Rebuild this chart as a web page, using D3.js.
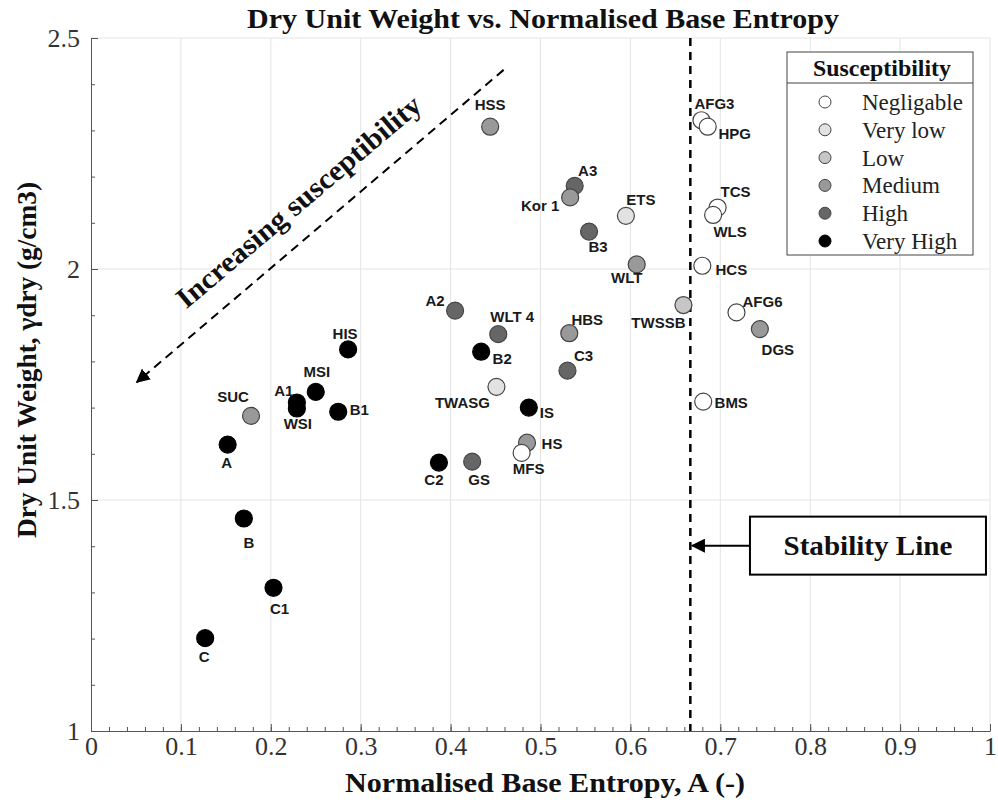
<!DOCTYPE html>
<html>
<head>
<meta charset="utf-8">
<script src="https://cdn.jsdelivr.net/npm/d3@7"></script>
<style>
  body { margin: 0; background: #fff; }
  .eje text { font-family: 'Liberation Serif', serif; font-size: 26px; fill: #333; }
  .eje path, .eje line { stroke: #555; }
  .etiqueta { font-family: 'Liberation Sans', Arial, sans-serif; font-weight: bold; font-size: 15px; fill: #1a1a1a; }
  .titulo { font-family: 'Liberation Serif', serif; font-weight: bold; fill: #111; }
</style>
</head>
<body>
<div id="graf"></div>
<script>
// I. Datos
nombres = ['HSS', 'A3', 'Kor 1', 'ETS', 'B3', 'WLT', 'HIS', 'MSI', 'A1', 'WSI', 'B1', 'SUC', 'A',
           'B', 'C1', 'C', 'A2', 'WLT 4', 'HBS', 'B2', 'C3', 'TWASG', 'IS', 'HS', 'MFS', 'C2', 'GS',
           'TWSSB', 'AFG3', 'HPG', 'TCS', 'WLS', 'HCS', 'AFG6', 'DGS', 'BMS']
entropia = [0.444, 0.538, 0.533, 0.595, 0.554, 0.607, 0.286, 0.250, 0.229, 0.229, 0.275, 0.178, 0.152,
            0.170, 0.203, 0.127, 0.405, 0.453, 0.532, 0.434, 0.530, 0.451, 0.487, 0.485, 0.479, 0.387, 0.424,
            0.659, 0.679, 0.686, 0.697, 0.692, 0.680, 0.718, 0.744, 0.681]
pesoSeco = [2.308, 2.180, 2.155, 2.115, 2.081, 2.010, 1.826, 1.734, 1.711, 1.698, 1.691, 1.682, 1.620,
            1.460, 1.310, 1.201, 1.910, 1.859, 1.861, 1.821, 1.780, 1.745, 1.700, 1.624, 1.602, 1.581, 1.583,
            1.922, 2.322, 2.308, 2.133, 2.117, 2.007, 1.906, 1.870, 1.713]
clase = ['Medium', 'High', 'Medium', 'Very low', 'High', 'Medium', 'Very High', 'Very High', 'Very High',
         'Very High', 'Very High', 'Medium', 'Very High', 'Very High', 'Very High', 'Very High', 'High',
         'High', 'Medium', 'Very High', 'High', 'Very low', 'Very High', 'Medium', 'Negligable', 'Very High',
         'High', 'Low', 'Negligable', 'Negligable', 'Negligable', 'Negligable', 'Negligable', 'Negligable',
         'Medium', 'Negligable']

clases = ['Negligable', 'Very low', 'Low', 'Medium', 'High', 'Very High']
xTicks = [0, 0.1, 0.2, 0.3, 0.4, 0.5, 0.6, 0.7, 0.8, 0.9, 1]
yTicks = [1, 1.5, 2, 2.5]
lineaEstabilidad = 2 / 3

// desplazamiento de cada etiqueta respecto a su punto (px)
offsets = {
  'HSS': [0, -22], 'A3': [13, -15], 'Kor 1': [-30, 8], 'ETS': [15, -16], 'B3': [9, 15], 'WLT': [-10, 13],
  'HIS': [-3, -16], 'MSI': [1, -20], 'A1': [-13, -12], 'WSI': [1, 15], 'B1': [21, -2], 'SUC': [-18, -19],
  'A': [-1, 18], 'B': [5, 24], 'C1': [6, 21], 'C': [-1, 18], 'A2': [-20, -10], 'WLT 4': [14, -18],
  'HBS': [18, -14], 'B2': [21, 7], 'C3': [16, -15], 'TWASG': [-34, 16], 'IS': [18, 5], 'HS': [25, 1],
  'MFS': [7, 16], 'C2': [-5, 17], 'GS': [7, 18], 'TWSSB': [-25, 17], 'AFG3': [13, -17], 'HPG': [27, 7],
  'TCS': [18, -16], 'WLS': [17, 17], 'HCS': [29, 4], 'AFG6': [26, -11], 'DGS': [18, 20], 'BMS': [28, 1]
}

datos = nombres.map((n, i) => ({ nombre: n, x: entropia[i], y: pesoSeco[i], clase: clase[i] }))

// II. Configuración
ancho_total = 998
alto_total = 810
margins = { top: 38, left: 91, right: 8, bottom: 79 }
ancho = ancho_total - margins.left - margins.right
alto = alto_total - margins.top - margins.bottom

svg = d3.select('#graf').append('svg')
        .attr('width', ancho_total)
        .attr('height', alto_total)

g = svg.append('g')
       .attr('transform', `translate(${ margins.left }, ${ margins.top })`)

x = d3.scaleLinear().domain([0, 1]).range([0, ancho])
y = d3.scaleLinear().domain([1, 2.5]).range([alto, 0])

color = d3.scaleOrdinal()
          .domain(clases)
          .range(['#ffffff', '#e2e2e2', '#c6c6c6', '#999999', '#666666', '#000000'])

// III. Rejilla
g.append('g').selectAll('line').data(xTicks.slice(1))
  .enter().append('line')
    .attr('x1', d => x(d)).attr('x2', d => x(d))
    .attr('y1', 0).attr('y2', alto)
    .attr('stroke', '#e4e4e4')
g.append('g').selectAll('line').data(yTicks.slice(1))
  .enter().append('line')
    .attr('x1', 0).attr('x2', ancho)
    .attr('y1', d => y(d)).attr('y2', d => y(d))
    .attr('stroke', '#e4e4e4')

// IV. Ejes (ticks hacia dentro)
xAxisGroup = g.append('g').attr('class', 'eje').attr('transform', `translate(0, ${ alto })`)
xAxisGroup.call(d3.axisBottom(x).tickValues(xTicks).tickSizeInner(-7).tickSizeOuter(0)
                  .tickPadding(6).tickFormat(d3.format('')))
g.append('g').attr('class', 'eje').attr('transform', `translate(0, ${ alto })`)
  .call(d3.axisBottom(x).tickValues(d3.range(0, 1.001, 0.02)).tickSize(-4).tickFormat(''))
  .select('.domain').remove()

yAxisGroup = g.append('g').attr('class', 'eje')
yAxisGroup.call(d3.axisLeft(y).tickValues(yTicks).tickSizeInner(-7).tickSizeOuter(0)
                  .tickPadding(11).tickFormat(d3.format('')))
g.append('g').attr('class', 'eje')
  .call(d3.axisLeft(y).tickValues(d3.range(1, 2.501, 0.1)).tickSize(-4).tickFormat(''))
  .select('.domain').remove()

// V. Línea de estabilidad
g.append('line')
  .attr('x1', x(lineaEstabilidad)).attr('x2', x(lineaEstabilidad))
  .attr('y1', y(2.5)).attr('y2', y(1))
  .attr('stroke', '#000').attr('stroke-width', 2.5).attr('stroke-dasharray', '8,6')

// flecha "Increasing susceptibility"
defs = svg.append('defs')
defs.append('marker').attr('id', 'punta').attr('viewBox', '0 0 10 10')
    .attr('refX', 9).attr('refY', 5).attr('markerWidth', 7).attr('markerHeight', 7)
    .attr('orient', 'auto')
  .append('path').attr('d', 'M0,0 L10,5 L0,10 z').attr('fill', '#000')

g.append('line')
  .attr('x1', x(0.459)).attr('y1', y(2.431))
  .attr('x2', x(0.051)).attr('y2', y(1.755))
  .attr('stroke', '#000').attr('stroke-width', 2).attr('stroke-dasharray', '9,6')
  .attr('marker-end', 'url(#punta)')

g.append('text')
  .attr('class', 'titulo')
  .attr('transform', `translate(${ x(0.238) }, ${ y(2.13) }) rotate(-40.3)`)
  .attr('text-anchor', 'middle')
  .attr('font-size', '29px')
  .attr('textLength', 311).attr('lengthAdjust', 'spacingAndGlyphs')
  .attr('stroke', '#fff').attr('stroke-width', 4).attr('paint-order', 'stroke')
  .text('Increasing susceptibility')

// VI. Puntos
g.append('g').selectAll('circle').data(datos)
  .enter().append('circle')
    .attr('cx', d => x(d.x))
    .attr('cy', d => y(d.y))
    .attr('r', 8.5)
    .attr('fill', d => color(d.clase))
    .attr('stroke', d => d.clase == 'Very High' ? '#000' : '#444')
    .attr('stroke-width', 1.2)

g.append('g').selectAll('text').data(datos)
  .enter().append('text')
    .attr('class', 'etiqueta')
    .attr('x', d => x(d.x) + offsets[d.nombre][0])
    .attr('y', d => y(d.y) + offsets[d.nombre][1])
    .attr('text-anchor', 'middle')
    .attr('dominant-baseline', 'central')
    .text(d => d.nombre)

// VII. Caja "Stability Line"
cajaX = x(0.733), cajaY = y(1.464)
g.append('rect')
  .attr('x', cajaX).attr('y', cajaY)
  .attr('width', 236).attr('height', 58)
  .attr('fill', '#fff').attr('stroke', '#000').attr('stroke-width', 2)
g.append('line')
  .attr('x1', cajaX).attr('y1', cajaY + 29)
  .attr('x2', x(lineaEstabilidad) + 2).attr('y2', cajaY + 29)
  .attr('stroke', '#000').attr('stroke-width', 2)
  .attr('marker-end', 'url(#punta)')
g.append('text')
  .attr('class', 'titulo')
  .attr('x', cajaX + 118).attr('y', cajaY + 38)
  .attr('text-anchor', 'middle')
  .attr('font-size', '28px')
  .attr('textLength', 169).attr('lengthAdjust', 'spacingAndGlyphs')
  .text('Stability Line')

// VIII. Leyenda
leyenda = svg.append('g').attr('transform', 'translate(787, 52)')
leyenda.append('rect')
  .attr('width', 186).attr('height', 203)
  .attr('fill', '#fff').attr('stroke', '#444')
leyenda.append('line')
  .attr('x1', 0).attr('x2', 186).attr('y1', 31).attr('y2', 31)
  .attr('stroke', '#444')
leyenda.append('text')
  .attr('class', 'titulo')
  .attr('x', 95).attr('y', 24)
  .attr('text-anchor', 'middle')
  .attr('font-size', '23px')
  .attr('textLength', 138).attr('lengthAdjust', 'spacingAndGlyphs')
  .text('Susceptibility')
items = leyenda.selectAll('g.item').data(clases)
  .enter().append('g')
    .attr('class', 'item')
    .attr('transform', (d, i) => `translate(0, ${ 50 + i * 27.8 })`)
items.append('circle')
  .attr('cx', 38).attr('r', 6)
  .attr('fill', d => color(d))
  .attr('stroke', d => d == 'Very High' ? '#000' : '#444')
items.append('text')
  .attr('x', 75).attr('dy', '0.35em')
  .attr('font-family', "'Liberation Serif', serif")
  .attr('font-size', '23px')
  .attr('fill', '#222')
  .text(d => d)

// IX. Títulos
svg.append('text')
  .attr('class', 'titulo')
  .attr('x', 543).attr('y', 28)
  .attr('text-anchor', 'middle')
  .attr('font-size', '28px')
  .attr('textLength', 592).attr('lengthAdjust', 'spacingAndGlyphs')
  .text('Dry Unit Weight vs. Normalised Base Entropy')

svg.append('text')
  .attr('class', 'titulo')
  .attr('x', 545).attr('y', 792)
  .attr('text-anchor', 'middle')
  .attr('font-size', '28px')
  .attr('textLength', 400).attr('lengthAdjust', 'spacingAndGlyphs')
  .text('Normalised Base Entropy, A (-)')

svg.append('text')
  .attr('class', 'titulo')
  .attr('transform', 'translate(36, 360) rotate(-90)')
  .attr('text-anchor', 'middle')
  .attr('font-size', '28px')
  .attr('textLength', 356).attr('lengthAdjust', 'spacingAndGlyphs')
  .text('Dry Unit Weight, γdry  (g/cm3)')
</script>
</body>
</html>
